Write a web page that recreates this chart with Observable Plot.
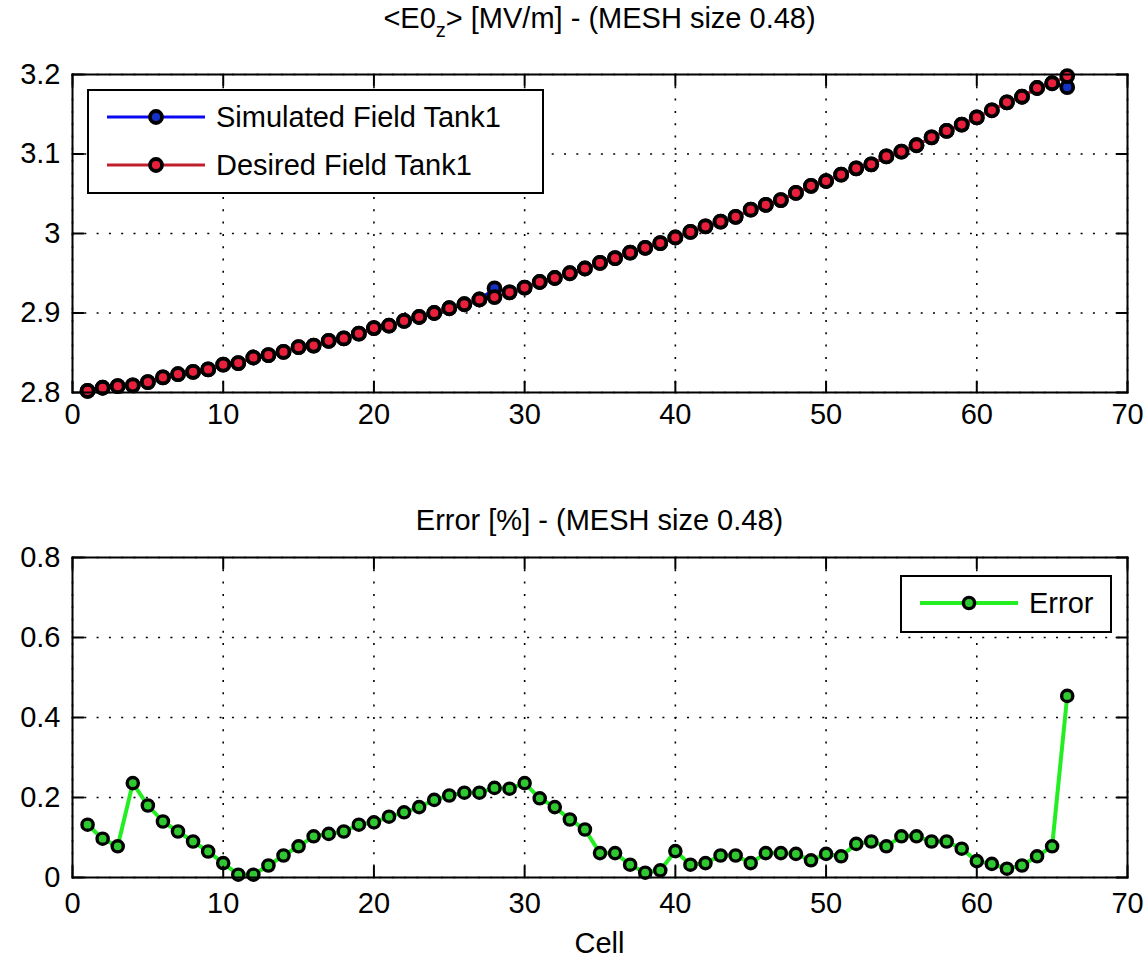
<!DOCTYPE html>
<html>
<head>
<meta charset="utf-8">
<script src="https://cdn.jsdelivr.net/npm/d3@7"></script>
<script src="https://cdn.jsdelivr.net/npm/@observablehq/plot@0.6"></script>
<style>
  body { margin: 0; background: #fff; }
  #fig { position: relative; width: 1146px; height: 964px; background: #fff; overflow: hidden;
         font-family: "Liberation Sans", Arial, Helvetica, sans-serif; color: #000; }
  .panel { position: absolute; left: 0; }
  .ttl { position: absolute; left: 72px; width: 1055px; text-align: center; font-size: 29px;
         line-height: 1; white-space: nowrap; }
  .ttl sub { font-size: 20px; vertical-align: -0.45em; line-height: 0; }
  #legends { position: absolute; left: 0; top: 0; pointer-events: none; }
</style>
</head>
<body>
<div id="fig">
  <div id="panelTop" class="panel" style="top:0"></div>
  <div id="panelBottom" class="panel" style="top:480px"></div>
  <div class="ttl" style="top:4px">&lt;E0<sub>z</sub>&gt; [MV/m] - (MESH size 0.48)</div>
  <div class="ttl" style="top:506px">Error [%] - (MESH size 0.48)</div>
  <div class="ttl" style="top:929px">Cell</div>
</div>
<script>
// Cell index along the tank
const cells = d3.range(1, 67);

// Desired accelerating field <E0z> per cell [MV/m]
const desired = [
  2.802, 2.806, 2.808, 2.809, 2.813, 2.819, 2.823, 2.826, 2.829, 2.835,
  2.837, 2.844, 2.847, 2.851, 2.857, 2.859, 2.865, 2.868, 2.874, 2.881,
  2.884, 2.890, 2.895, 2.900, 2.906, 2.911, 2.917, 2.920, 2.926, 2.932,
  2.939, 2.944, 2.950, 2.956, 2.963, 2.969, 2.976, 2.982, 2.988, 2.995,
  3.002, 3.009, 3.015, 3.021, 3.030, 3.036, 3.042, 3.051, 3.060, 3.066,
  3.074, 3.082, 3.087, 3.097, 3.103, 3.111, 3.121, 3.129, 3.137, 3.146,
  3.155, 3.165, 3.172, 3.183, 3.189, 3.198
];

// Simulated field per cell [MV/m]
const simulated = [
  2.802, 2.806, 2.808, 2.809, 2.813, 2.819, 2.823, 2.826, 2.829, 2.835,
  2.837, 2.844, 2.847, 2.851, 2.857, 2.859, 2.865, 2.868, 2.874, 2.881,
  2.884, 2.890, 2.895, 2.900, 2.906, 2.911, 2.917, 2.931, 2.926, 2.932,
  2.939, 2.944, 2.950, 2.956, 2.963, 2.969, 2.976, 2.982, 2.988, 2.995,
  3.002, 3.009, 3.015, 3.021, 3.030, 3.036, 3.042, 3.051, 3.060, 3.066,
  3.074, 3.082, 3.087, 3.097, 3.103, 3.111, 3.121, 3.129, 3.137, 3.146,
  3.155, 3.165, 3.172, 3.183, 3.189, 3.184
];

// Relative error between simulated and desired field [%]
const errorPct = [
  0.132, 0.097, 0.078, 0.236, 0.180, 0.140, 0.115, 0.090, 0.065, 0.036,
  0.007, 0.007, 0.030, 0.055, 0.078, 0.103, 0.109, 0.115, 0.132, 0.138,
  0.152, 0.163, 0.176, 0.194, 0.205, 0.212, 0.212, 0.224, 0.222, 0.236,
  0.198, 0.176, 0.145, 0.120, 0.061, 0.061, 0.032, 0.012, 0.018, 0.066,
  0.032, 0.036, 0.055, 0.055, 0.036, 0.061, 0.061, 0.059, 0.043, 0.059,
  0.053, 0.084, 0.090, 0.078, 0.103, 0.103, 0.090, 0.090, 0.072, 0.041,
  0.034, 0.022, 0.030, 0.053, 0.078, 0.454
];

// Axis ticks
const xTicks = [0, 10, 20, 30, 40, 50, 60, 70];
const yTicksField = [2.8, 2.9, 3, 3.1, 3.2];
const yTicksError = [0, 0.2, 0.4, 0.6, 0.8];

// Series styling
const blueLine = "#0a0af0", blueFill = "#1432c8";
const redLine = "#c0202c", redFill = "#e8203c";
const greenLine = "#22ee22", greenFill = "#30c830";

const rows = cells.map((c, i) => ({cell: c, sim: simulated[i], des: desired[i], err: errorPct[i]}));

const fmt = d => String(d);
const font = {fontFamily: '"Liberation Sans", Arial, Helvetica, sans-serif', fontSize: "29px", color: "#000", background: "#fff", overflow: "visible"};

// Short inward tick drawn from the frame edge
const spike = {draw(context, l) { context.moveTo(0, 0); context.lineTo(0, -l); }};
function inwardTicks(xt, yt) {
  const o = {length: 11, anchor: "start", shape: spike, stroke: "#000", strokeWidth: 2};
  return [
    Plot.vector(xt, {...o, x: d => d, frameAnchor: "bottom", rotate: 0}),
    Plot.vector(xt, {...o, x: d => d, frameAnchor: "top", rotate: 180}),
    Plot.vector(yt, {...o, y: d => d, frameAnchor: "left", rotate: 90}),
    Plot.vector(yt, {...o, y: d => d, frameAnchor: "right", rotate: -90})
  ];
}
function grid(xt, yt) {
  const g = {stroke: "#000", strokeOpacity: 1, strokeWidth: 1.6, strokeDasharray: "2,10.3"};
  return [Plot.gridX(xt, g), Plot.gridY(yt, g)];
}
function axes(xt, yt, xPad) {
  return [
    Plot.axisX(xt, {anchor: "bottom", tickSize: 0, tickPadding: xPad, tickFormat: fmt, label: null}),
    Plot.axisY(yt, {anchor: "left", tickSize: 0, tickPadding: 12, tickFormat: fmt, label: null})
  ];
}

// Field panel
const fieldChart = Plot.plot({
  width: 1146, height: 440,
  marginTop: 74, marginBottom: 48, marginLeft: 72, marginRight: 19,
  style: font,
  x: {domain: [0, 70]},
  y: {domain: [2.8, 3.2]},
  marks: [
    ...grid(xTicks, yTicksField),
    Plot.line(rows, {x: "cell", y: "sim", stroke: blueLine, strokeWidth: 3}),
    Plot.dot(rows, {x: "cell", y: "sim", r: 6, fill: blueFill, stroke: "#000", strokeWidth: 3.8}),
    Plot.line(rows, {x: "cell", y: "des", stroke: redLine, strokeWidth: 3}),
    Plot.dot(rows, {x: "cell", y: "des", r: 6, fill: redFill, stroke: "#000", strokeWidth: 3.8}),
    Plot.frame({stroke: "#000", strokeWidth: 2}),
    ...inwardTicks(xTicks, yTicksField),
    ...axes(xTicks, yTicksField, 11)
  ]
});
document.getElementById("panelTop").append(fieldChart);

// Error panel
const errorChart = Plot.plot({
  width: 1146, height: 484,
  marginTop: 77, marginBottom: 87, marginLeft: 72, marginRight: 19,
  style: font,
  x: {domain: [0, 70]},
  y: {domain: [0, 0.8]},
  marks: [
    ...grid(xTicks, yTicksError),
    Plot.line(rows, {x: "cell", y: "err", stroke: greenLine, strokeWidth: 4}),
    Plot.dot(rows, {x: "cell", y: "err", r: 5.6, fill: greenFill, stroke: "#000", strokeWidth: 3.4}),
    Plot.frame({stroke: "#000", strokeWidth: 2}),
    ...inwardTicks(xTicks, yTicksError),
    ...axes(xTicks, yTicksError, 15)
  ]
});
document.getElementById("panelBottom").append(errorChart);

// Legends
const svg = d3.select("#fig").append("svg")
  .attr("id", "legends").attr("width", 1146).attr("height", 964)
  .style("font-family", '"Liberation Sans", Arial, Helvetica, sans-serif')
  .style("font-size", "29px");

function legend(box, entries) {
  svg.append("rect").attr("x", box.x).attr("y", box.y).attr("width", box.w).attr("height", box.h)
    .attr("fill", "#fff").attr("stroke", "#000").attr("stroke-width", 2);
  entries.forEach(e => {
    svg.append("line").attr("x1", box.x + 19).attr("x2", box.x + 117).attr("y1", e.y).attr("y2", e.y)
      .attr("stroke", e.line).attr("stroke-width", e.lw);
    svg.append("circle").attr("cx", box.x + 68).attr("cy", e.y).attr("r", e.r)
      .attr("fill", e.fill).attr("stroke", "#000").attr("stroke-width", e.sw);
    svg.append("text").attr("x", box.x + 128).attr("y", e.y).attr("dominant-baseline", "central")
      .attr("fill", "#000").text(e.label);
  });
}
legend({x: 88, y: 90, w: 455, h: 103}, [
  {y: 117, label: "Simulated Field Tank1", line: blueLine, fill: blueFill, lw: 3, r: 6, sw: 3.8},
  {y: 165, label: "Desired Field Tank1", line: redLine, fill: redFill, lw: 3, r: 6, sw: 3.8}
]);
legend({x: 901, y: 576, w: 210, h: 56}, [
  {y: 603, label: "Error", line: greenLine, fill: greenFill, lw: 4, r: 5.6, sw: 3.4}
]);
</script>
</body>
</html>
